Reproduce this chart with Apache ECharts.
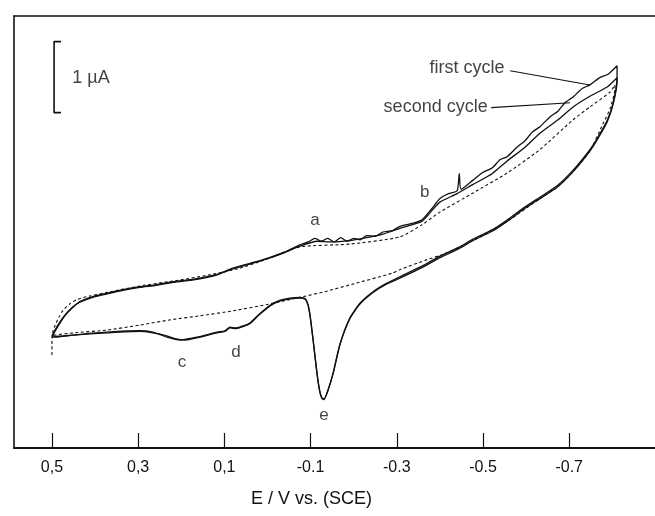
<!DOCTYPE html>
<html>
<head>
<meta charset="utf-8">
<script src="https://cdn.jsdelivr.net/npm/echarts@6/dist/echarts.min.js"></script>
<style>
html,body{margin:0;padding:0;background:#fff;}
#c{width:655px;height:516px;}
</style>
</head>
<body>
<div id="c"></div>
<script>
// Potential E (V vs SCE), current I (µA, arbitrary zero)
const tickValues = [0.5, 0.3, 0.1, -0.1, -0.3, -0.5, -0.7];
const tickLabels = ['0,5', '0,3', '0,1', '-0.1', '-0.3', '-0.5', '-0.7'];

const firstCycle = [
  [0.500,-0.10],[0.493,-0.02],[0.481,0.10],[0.470,0.20],[0.458,0.28],[0.442,0.37],[0.428,0.42],
  [0.400,0.48],[0.372,0.52],[0.335,0.57],[0.296,0.61],[0.258,0.64],[0.219,0.68],[0.180,0.71],
  [0.157,0.73],[0.120,0.78],[0.080,0.87],[0.040,0.94],[0.001,1.01],[-0.040,1.10],[-0.075,1.20],
  [-0.095,1.24],[-0.110,1.29],[-0.125,1.25],[-0.140,1.29],[-0.155,1.24],[-0.170,1.30],[-0.185,1.25],
  [-0.200,1.29],[-0.215,1.27],[-0.230,1.33],[-0.250,1.32],[-0.268,1.38],[-0.290,1.40],
  [-0.307,1.46],[-0.335,1.50],[-0.358,1.55],[-0.380,1.70],[-0.400,1.85],[-0.420,1.92],[-0.440,1.96],
  [-0.445,2.20],[-0.449,1.98],[-0.477,2.11],[-0.500,2.22],[-0.521,2.28],[-0.540,2.40],[-0.556,2.44],
  [-0.580,2.58],[-0.597,2.66],[-0.615,2.79],[-0.632,2.86],[-0.655,3.00],
  [-0.674,3.08],[-0.690,3.20],[-0.709,3.28],[-0.730,3.40],[-0.748,3.45],[-0.770,3.55],[-0.790,3.60],[-0.811,3.72],
  [-0.811,3.55],[-0.802,3.20],[-0.788,2.95],[-0.765,2.70],[-0.748,2.54],[-0.709,2.25],[-0.672,2.03],
  [-0.632,1.87],[-0.597,1.73],[-0.556,1.55],[-0.521,1.41],[-0.477,1.28],[-0.442,1.16],[-0.400,1.04],
  [-0.365,0.92],[-0.307,0.75],[-0.277,0.66],[-0.245,0.54],[-0.215,0.38],[-0.191,0.17],[-0.168,-0.20],
  [-0.152,-0.61],[-0.140,-0.85],[-0.131,-0.97],[-0.126,-0.95],[-0.121,-0.85],[-0.115,-0.61],[-0.106,-0.14],
  [-0.099,0.20],[-0.094,0.36],[-0.088,0.44],[-0.075,0.46],[-0.052,0.45],[-0.030,0.42],[-0.006,0.35],
  [0.020,0.22],[0.041,0.10],[0.073,0.03],[0.087,0.04],[0.099,-0.01],[0.117,-0.03],[0.164,-0.10],
  [0.203,-0.14],[0.233,-0.10],[0.266,-0.03],[0.296,-0.01],[0.372,-0.03],[0.451,-0.07],[0.493,-0.10],[0.500,-0.10]
];

const secondCycle = [
  [0.500,-0.08],[0.493,0.00],[0.481,0.12],[0.470,0.21],[0.458,0.29],[0.442,0.37],[0.428,0.41],
  [0.400,0.47],[0.372,0.51],[0.335,0.56],[0.296,0.60],[0.258,0.63],[0.219,0.67],[0.180,0.70],
  [0.157,0.72],[0.120,0.77],[0.080,0.86],[0.040,0.93],[0.001,1.00],[-0.040,1.09],[-0.075,1.18],
  [-0.115,1.25],[-0.150,1.24],[-0.191,1.26],[-0.230,1.30],[-0.268,1.35],[-0.307,1.43],[-0.358,1.53],
  [-0.380,1.67],[-0.400,1.80],[-0.440,1.92],[-0.477,2.05],[-0.521,2.20],[-0.556,2.38],[-0.597,2.57],
  [-0.632,2.77],[-0.674,2.96],[-0.709,3.14],[-0.748,3.29],[-0.788,3.42],[-0.811,3.55],
  [-0.811,3.50],[-0.802,3.18],[-0.788,2.93],[-0.765,2.68],[-0.748,2.52],[-0.709,2.23],[-0.672,2.01],
  [-0.632,1.85],[-0.597,1.71],[-0.556,1.53],[-0.521,1.39],[-0.477,1.26],[-0.442,1.14],[-0.400,1.02],
  [-0.365,0.90],[-0.307,0.73],[-0.277,0.65],[-0.245,0.53],[-0.215,0.37],[-0.191,0.16],[-0.168,-0.21],
  [-0.152,-0.62],[-0.140,-0.86],[-0.131,-0.98],[-0.126,-0.96],[-0.121,-0.86],[-0.115,-0.62],[-0.106,-0.15],
  [-0.099,0.19],[-0.094,0.35],[-0.088,0.43],[-0.075,0.45],[-0.052,0.44],[-0.030,0.41],[-0.006,0.34],
  [0.020,0.21],[0.041,0.09],[0.073,0.02],[0.087,0.03],[0.099,-0.02],[0.117,-0.04],[0.164,-0.11],
  [0.190,-0.14],[0.215,-0.12],[0.240,-0.07],[0.266,-0.04],[0.296,-0.02],[0.372,-0.04],[0.451,-0.07],
  [0.493,-0.09],[0.500,-0.08]
];

const blankScan = [
  [0.500,-0.35],[0.500,-0.14],[0.497,0.00],[0.493,0.06],[0.484,0.18],[0.474,0.28],[0.458,0.37],
  [0.442,0.43],[0.412,0.48],[0.372,0.53],[0.296,0.62],[0.219,0.69],[0.140,0.77],[0.064,0.87],
  [0.001,1.00],[-0.075,1.17],[-0.191,1.21],[-0.307,1.31],[-0.358,1.48],[-0.400,1.66],[-0.477,1.93],
  [-0.556,2.21],[-0.632,2.54],[-0.709,2.96],[-0.748,3.14],[-0.795,3.35],[-0.806,3.45],
  [-0.806,3.40],[-0.795,3.12],[-0.778,2.90],[-0.748,2.52],[-0.709,2.23],[-0.672,2.01],[-0.632,1.85],
  [-0.556,1.53],[-0.477,1.26],[-0.442,1.15],[-0.400,1.05],[-0.365,0.98],[-0.307,0.85],[-0.289,0.80],
  [-0.200,0.65],[-0.133,0.54],[-0.075,0.46],[0.001,0.36],[0.080,0.27],[0.157,0.20],[0.219,0.15],
  [0.296,0.07],[0.372,0.00],[0.451,-0.04],[0.493,-0.07],[0.500,-0.09]
];

// 1 µA scale bar
const scaleBar = [[0.479,4.06],[0.495,4.06],[0.495,3.06],[0.479,3.06]];
// leader lines for the cycle labels
const leaderFirst = [[-0.563,3.65],[-0.748,3.45]];
const leaderSecond = [[-0.519,3.13],[-0.702,3.20]];

// annotation texts: [E, I, text, side, font size]
const notes = [
  [-0.110, 1.55, 'a', 'c', 17],
  [-0.365, 1.94, 'b', 'c', 17],
  [0.198, -0.45, 'c', 'c', 17],
  [0.073, -0.31, 'd', 'c', 17],
  [-0.131, -1.20, 'e', 'c', 17],
  [-0.551, 3.69, 'first cycle', 'l', 18],
  [-0.512, 3.14, 'second cycle', 'l', 18],
  [0.454, 3.55, '1 \u00b5A', 'r', 18]
];

const FONT = "'Liberation Sans', Arial, Helvetica, sans-serif";
const INK = '#111';

const chart = echarts.init(document.getElementById('c'), null, {renderer: 'canvas'});

function lineSeries(data, opts) {
  return Object.assign({
    type: 'line', data: data, symbol: 'none', silent: true,
    lineStyle: {color: INK, width: 1.3}, z: 3
  }, opts || {});
}

chart.setOption({
  animation: false,
  backgroundColor: '#fff',
  grid: {left: 14, right: 0, top: 16, bottom: 68, containLabel: false},
  xAxis: [{
    type: 'value', inverse: true, min: -0.899, max: 0.588,
    axisLine: {show: true, onZero: false, lineStyle: {color: INK, width: 1.8}},
    axisTick: {show: true, inside: true, length: 15, customValues: tickValues, lineStyle: {color: INK, width: 1.2}},
    axisLabel: {
      show: true, customValues: tickValues, margin: 12,
      fontFamily: FONT, fontSize: 16, color: INK,
      formatter: function (v) {
        for (let i = 0; i < tickValues.length; i++) {
          if (Math.abs(tickValues[i] - v) < 1e-6) return tickLabels[i];
        }
        return '';
      }
    },
    splitLine: {show: false}
  }, {
    type: 'value', inverse: true, min: -0.899, max: 0.588, position: 'top',
    axisLine: {show: true, onZero: false, lineStyle: {color: INK, width: 1.6}},
    axisTick: {show: false}, axisLabel: {show: false}, splitLine: {show: false}
  }],
  yAxis: {
    type: 'value', min: -1.66, max: 4.42,
    axisLine: {show: true, onZero: false, lineStyle: {color: INK, width: 1.6}},
    axisTick: {show: false}, axisLabel: {show: false}, splitLine: {show: false}
  },
  series: [
    lineSeries(blankScan, {lineStyle: {color: INK, width: 1.1, type: [3, 2.5]}, smooth: 0.2}),
    lineSeries(secondCycle, {smooth: 0.2}),
    lineSeries(firstCycle, {smooth: 0.2}),
    lineSeries(scaleBar, {lineStyle: {color: INK, width: 1.6}}),
    lineSeries(leaderFirst, {lineStyle: {color: INK, width: 1.1}}),
    lineSeries(leaderSecond, {lineStyle: {color: INK, width: 1.1}}),
    {
      type: 'scatter', silent: true, symbolSize: 1, itemStyle: {color: 'rgba(0,0,0,0)'},
      data: notes.map(function (n) {
        const pos = n[3] === 'l' ? 'left' : (n[3] === 'r' ? 'right' : 'inside');
        return {
          value: [n[0], n[1]],
          label: {
            show: true, formatter: n[2], position: pos, distance: 0,
            fontFamily: FONT, fontSize: n[4], color: INK
          }
        };
      }),
      z: 5
    }
  ],
  graphic: [{
    type: 'text', left: 251, top: 490,
    style: {text: 'E / V vs. (SCE)', font: '18px ' + FONT, fill: INK}
  }]
});
</script>
</body>
</html>
